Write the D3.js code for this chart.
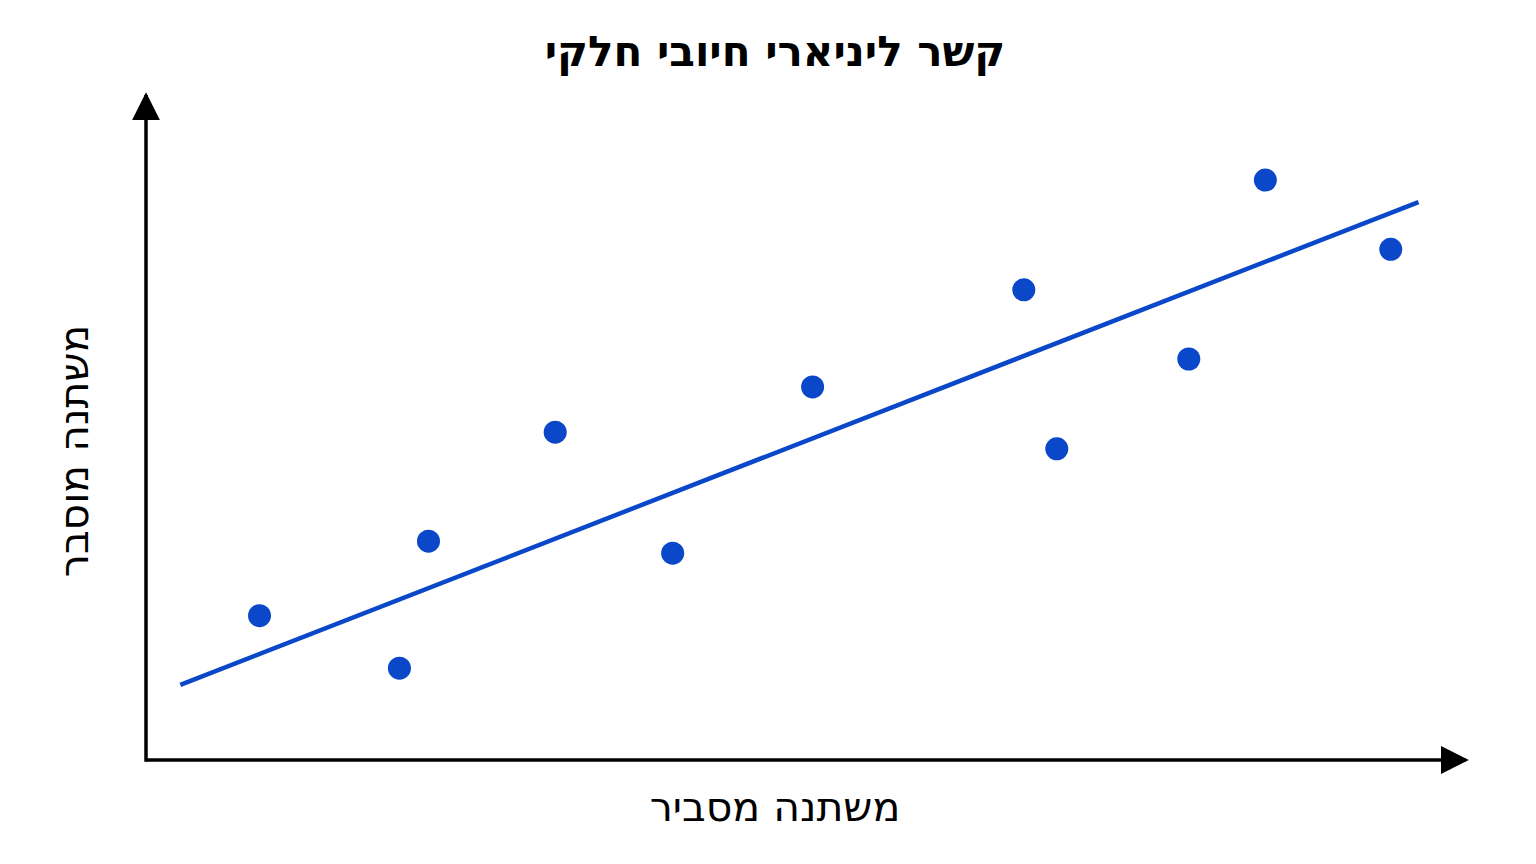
<!DOCTYPE html>
<html><head><meta charset="utf-8">
<script src="https://cdn.jsdelivr.net/npm/d3@7"></script>
<style>body{margin:0;background:#fff}</style></head>
<body><svg id="c" width="1536" height="864"></svg>
<script>
const title = "קשר ליניארי חיובי חלקי";
const xLabel = "משתנה מסביר";
const yLabel = "משתנה מוסבר";
const xs = [0.86,1.92,2.14,3.10,3.99,5.05,6.65,6.90,7.90,8.48,9.43];
const ys = [2.17,1.38,3.29,4.93,3.11,5.61,7.07,4.68,6.03,8.72,7.68];
const lineX = [0.26,9.64];
const lineY = [1.13,8.39];

const svg = d3.select("#c");
const x = d3.scaleLinear().domain([0,10]).range([146,1466]);
const y = d3.scaleLinear().domain([0,10]).range([760,95]);
const col = "#0a47c9";

svg.append("defs").append("marker").attr("id","ar").attr("viewBox","0 0 10 10")
  .attr("refX",9).attr("refY",5).attr("markerWidth",28).attr("markerHeight",28)
  .attr("markerUnits","userSpaceOnUse").attr("orient","auto")
  .append("path").attr("d","M0,0L10,5L0,10Z").attr("fill","#000");

svg.append("line").attr("x1",x(0)).attr("y1",y(0)).attr("x2",x(10)).attr("y2",y(0))
  .attr("stroke","#000").attr("stroke-width",3.5).attr("marker-end","url(#ar)");
svg.append("line").attr("x1",x(0)).attr("y1",y(0)+1.75).attr("x2",x(0)).attr("y2",y(10))
  .attr("stroke","#000").attr("stroke-width",3.5).attr("marker-end","url(#ar)");

svg.append("line").attr("x1",x(lineX[0])).attr("y1",y(lineY[0])).attr("x2",x(lineX[1])).attr("y2",y(lineY[1]))
  .attr("stroke",col).attr("stroke-width",4.5);

svg.selectAll("circle.p").data(xs.map((v,i)=>[v,ys[i]])).enter().append("circle")
  .attr("cx",d=>x(d[0])).attr("cy",d=>y(d[1])).attr("r",11.5).attr("fill",col);

svg.append("text").attr("x",775).attr("y",66).attr("text-anchor","middle")
  .attr("font-family","DejaVu Sans").attr("font-weight","bold").attr("font-size",42).text(title);
svg.append("text").attr("x",775).attr("y",821).attr("text-anchor","middle")
  .attr("font-family","DejaVu Sans").attr("font-size",41).text(xLabel);
svg.append("text").attr("transform","translate(88,451) rotate(-90)").attr("text-anchor","middle")
  .attr("font-family","DejaVu Sans").attr("font-size",41).text(yLabel);
</script></body></html>
